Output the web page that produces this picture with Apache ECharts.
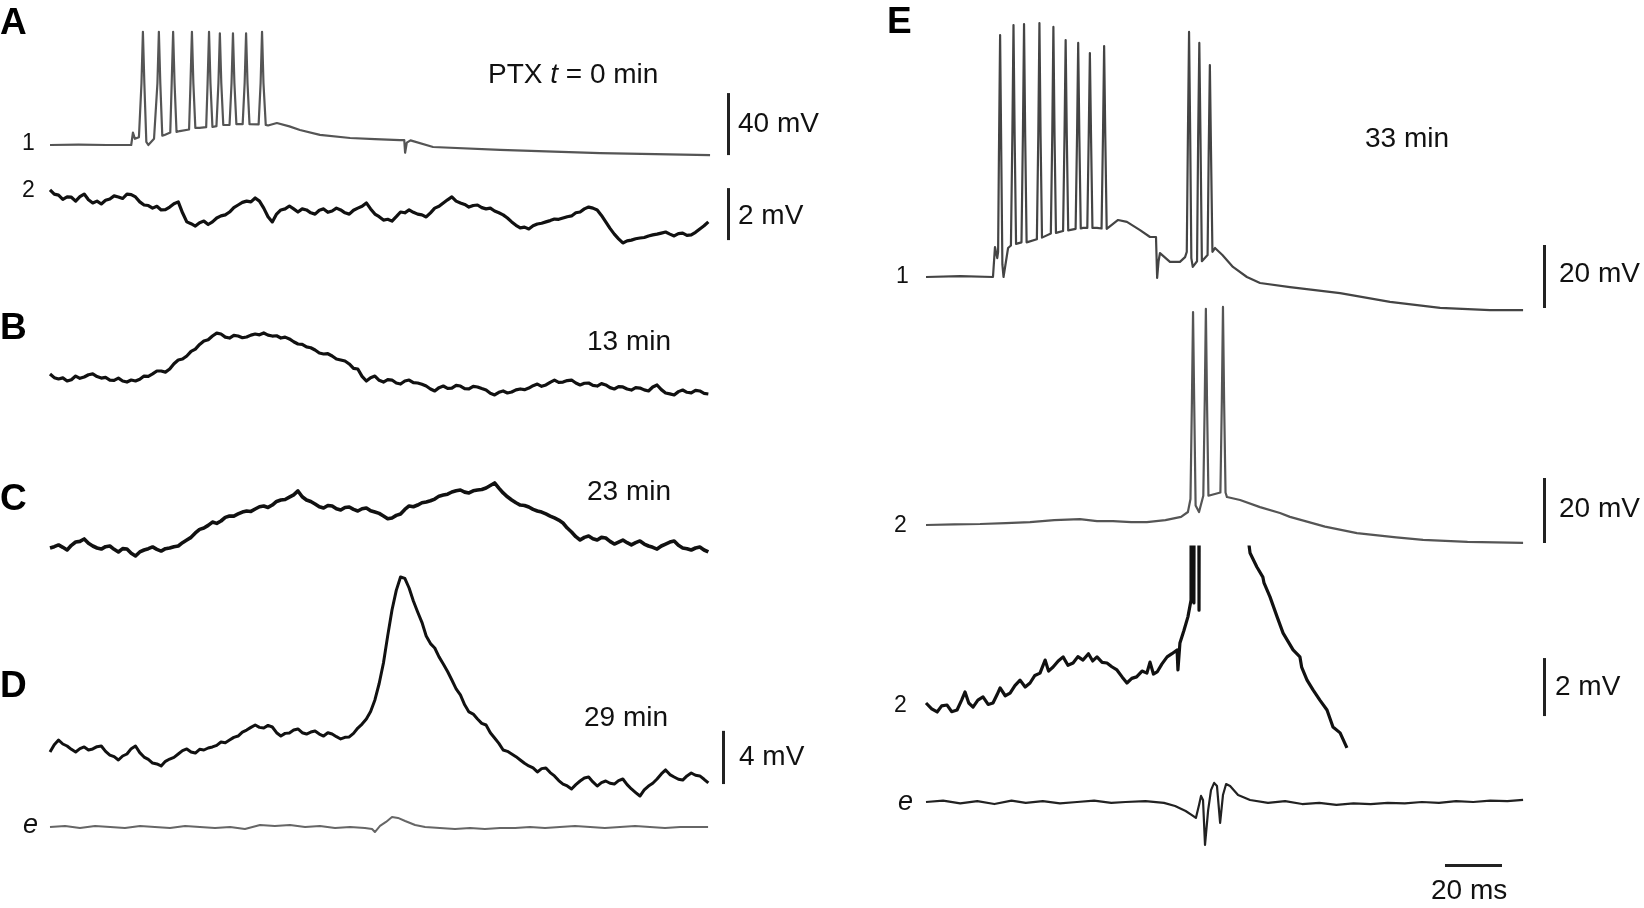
<!DOCTYPE html>
<html>
<head>
<meta charset="utf-8">
<title>PTX traces</title>
<script src="https://cdn.jsdelivr.net/npm/echarts@6/dist/echarts.min.js"></script>
<style>
  html, body { margin: 0; padding: 0; background: #fff; }
  #main { width: 1644px; height: 908px; }
</style>
</head>
<body>
<div id="main"></div>
<script>
// ---- data: time in ms, potential in mV ----
// A2, B, C, D are sampled every STEP_AD ms
const STEP_AD = 1.5

const traceA1 = [
  [0, 0], [10, 0.2], [20, 0], [28.5, 0], [29.1, 8], [29.8, 4], [31.2, 5],
  [32.1, 40], [32.6, 73], [33.1, 40], [33.8, 2], [34.5, 0],
  [36.5, 4], [37.7, 40], [38.2, 73], [38.7, 40], [39.4, 6], [40.2, 6.5],
  [42.2, 8], [42.7, 40], [43.2, 73], [43.7, 40], [44.4, 8.4], [45.5, 9],
  [48.8, 10], [49.3, 40], [49.8, 73], [50.3, 40], [51, 11], [52.5, 11],
  [54.8, 11.5], [55.3, 40], [55.8, 73], [56.3, 40], [57, 11.6], [58.4, 12.2],
  [59.1, 40], [59.6, 72], [60.1, 40], [60.8, 12.9], [63, 13],
  [63.7, 40], [64.2, 72], [64.7, 40], [65.4, 13.5], [67.6, 13.5],
  [68.3, 40], [68.8, 72], [69.3, 40], [70, 13.5], [73.2, 13.3],
  [73.9, 40], [74.4, 73], [74.9, 40], [75.7, 13], [76.5, 12.6],
  [79.6, 14.2], [84, 12], [87.7, 9.7], [94.7, 6.5], [105.3, 4.5], [114, 3.8],
  [122.8, 3.2], [124.3, 3.2], [124.6, -5], [125.2, 1.5], [126.5, 3],
  [134.4, -1.3], [157.9, -3.2], [193, -5.2], [231.6, -6.5]
]

const traceA2 = [
  0.58, 0.42, 0.38, 0.22, 0.31, 0.3, 0.15, 0.32, 0.42, 0.2,
  0.08, 0.15, 0.04, 0.18, 0.23, 0.35, 0.31, 0.25, 0.42, 0.4,
  0.31, 0.12, 0, -0.02, -0.12, -0.05, -0.19, -0.18, -0.08, 0.05,
  0.12, -0.3, -0.65, -0.72, -0.81, -0.68, -0.62, -0.75, -0.65, -0.5,
  -0.42, -0.38, -0.27, -0.1, 0, 0.1, 0.15, 0.12, 0.27, 0.15,
  -0.12, -0.45, -0.65, -0.35, -0.19, -0.15, -0.04, -0.15, -0.27, -0.15,
  -0.19, -0.3, -0.35, -0.2, -0.15, -0.28, -0.23, -0.12, -0.19, -0.3,
  -0.35, -0.2, -0.12, -0.05, 0.08, -0.15, -0.35, -0.45, -0.58, -0.55,
  -0.62, -0.45, -0.27, -0.3, -0.19, -0.28, -0.35, -0.38, -0.46, -0.3,
  -0.12, -0.05, 0.08, 0.2, 0.31, 0.15, 0.08, 0.02, -0.08, -0.02,
  0, -0.1, -0.15, -0.12, -0.23, -0.3, -0.38, -0.5, -0.65, -0.78,
  -0.88, -0.85, -0.92, -0.8, -0.73, -0.7, -0.65, -0.6, -0.54, -0.55,
  -0.5, -0.45, -0.42, -0.3, -0.27, -0.15, -0.08, -0.12, -0.19, -0.4,
  -0.65, -0.9, -1.12, -1.3, -1.46, -1.38, -1.35, -1.3, -1.27, -1.25,
  -1.19, -1.15, -1.12, -1.08, -1.04, -1.12, -1.19, -1.1, -1.08, -1.17,
  -1.15, -1.05, -0.92, -0.8, -0.65
]

const traceB = [
  0.08, -0.2, -0.3, -0.22, -0.45, -0.35, -0.08, -0.25, -0.15, 0.02,
  0.08, -0.12, -0.23, -0.18, -0.38, -0.4, -0.23, -0.45, -0.53, -0.38,
  -0.45, -0.32, -0.08, -0.1, 0.08, 0.3, 0.3, 0.22, 0.45, 0.85,
  1.13, 1.2, 1.43, 1.78, 1.95, 2.3, 2.56, 2.65, 2.93, 3.15,
  3.08, 2.85, 2.78, 2.98, 2.93, 2.8, 2.86, 3, 3.08, 3.02,
  3.16, 3, 2.93, 2.95, 2.78, 2.85, 2.71, 2.5, 2.33, 2.3,
  2.11, 2.05, 1.88, 1.65, 1.58, 1.6, 1.43, 1.2, 1.13, 1.05,
  0.83, 0.5, 0.45, -0.1, -0.45, -0.2, -0.08, -0.4, -0.53, -0.35,
  -0.38, -0.6, -0.68, -0.45, -0.38, -0.58, -0.6, -0.7, -0.83, -1.05,
  -1.2, -0.95, -0.83, -1, -0.98, -0.78, -0.83, -1.02, -1.05, -0.85,
  -0.9, -1.02, -1.13, -1.38, -1.5, -1.3, -1.2, -1.35, -1.28, -1.12,
  -1.05, -1.1, -0.98, -0.8, -0.68, -0.85, -0.75, -0.55, -0.38, -0.55,
  -0.53, -0.42, -0.38, -0.6, -0.75, -0.62, -0.6, -0.78, -0.83, -0.65,
  -0.75, -0.95, -1.05, -0.88, -0.9, -1.05, -1.13, -0.95, -0.98, -1.12,
  -1.2, -0.9, -0.75, -1.1, -1.35, -1.42, -1.5, -1.25, -1.13, -1.3,
  -1.35, -1.15, -1.2, -1.38, -1.43
]

const traceC = [
  0, 0.1, 0.23, 0.05, -0.15, 0.2, 0.45, 0.5, 0.68, 0.35,
  0.15, 0, -0.08, 0.1, 0.15, -0.1, -0.3, -0.05, -0.08, -0.4,
  -0.6, -0.3, -0.15, -0.05, 0.08, -0.1, -0.23, -0.05, 0, 0.1,
  0.15, 0.4, 0.6, 0.8, 1.13, 1.4, 1.5, 1.7, 1.95, 1.85,
  2.03, 2.3, 2.41, 2.4, 2.56, 2.7, 2.78, 2.75, 2.93, 3.1,
  3.16, 3.05, 3.23, 3.5, 3.61, 3.65, 3.83, 4, 4.29, 3.85,
  3.61, 3.5, 3.31, 3.1, 3.01, 3.2, 3.16, 2.95, 2.86, 3.05,
  3.08, 2.9, 2.78, 2.95, 3.01, 2.8, 2.71, 2.6, 2.41, 2.2,
  2.26, 2.45, 2.56, 2.9, 3.16, 3.1, 3.23, 3.4, 3.46, 3.55,
  3.68, 3.9, 3.98, 4.05, 4.21, 4.3, 4.36, 4.2, 4.14, 4.3,
  4.36, 4.4, 4.51, 4.7, 4.89, 4.5, 4.14, 3.85, 3.61, 3.4,
  3.23, 3.2, 3.08, 2.9, 2.78, 2.7, 2.56, 2.4, 2.26, 2.1,
  1.88, 1.5, 1.2, 0.85, 0.6, 0.8, 0.9, 0.7, 0.6, 0.8,
  0.75, 0.5, 0.3, 0.45, 0.6, 0.4, 0.23, 0.4, 0.53, 0.3,
  0.15, 0.05, -0.08, 0.15, 0.3, 0.45, 0.53, 0.2, 0, -0.05,
  -0.15, 0, 0.08, -0.15, -0.3
]

const traceD = [
  -0.15, 0.4, 0.75, 0.45, 0.3, 0.05, -0.15, 0.1, 0.23, 0,
  0.08, 0.25, 0.3, -0.1, -0.38, -0.5, -0.75, -0.45, -0.3, 0.1,
  0.3, -0.2, -0.53, -0.7, -0.98, -1.05, -1.2, -0.85, -0.68, -0.55,
  -0.3, -0.05, 0.08, -0.15, -0.23, 0.05, 0, 0.15, 0.23, 0.35,
  0.6, 0.55, 0.75, 0.95, 1.05, 1.35, 1.5, 1.7, 1.88, 1.7,
  1.65, 1.85, 1.73, 1.3, 1.05, 1.25, 1.28, 1.5, 1.58, 1.3,
  1.2, 1.35, 1.43, 1.2, 1.05, 1.3, 1.2, 1, 0.83, 0.95,
  0.98, 1.25, 1.65, 1.95, 2.33, 2.9, 3.76, 5, 6.54, 8.6,
  10.53, 12, 13.01, 12.9, 12.18, 11.2, 10.38, 9.6, 8.57, 8,
  7.67, 7, 6.47, 5.9, 5.26, 4.6, 4.14, 3.4, 2.86, 2.7,
  2.33, 2, 1.88, 1.3, 0.9, 0.5, 0, -0.1, -0.3, -0.5,
  -0.75, -1, -1.2, -1.35, -1.65, -1.4, -1.35, -1.7, -1.95, -2.3,
  -2.56, -2.7, -2.93, -2.6, -2.33, -2.1, -2.03, -2.4, -2.71, -2.45,
  -2.33, -2.5, -2.56, -2.3, -2.18, -2.6, -2.93, -3.2, -3.46, -3,
  -2.71, -2.5, -2.18, -1.8, -1.5, -1.85, -2.03, -2.2, -2.26, -1.95,
  -1.73, -1.9, -1.95, -2.2, -2.48
]

const traceDe = [
  [0, 0], [5.3, 0.08], [10.5, -0.08], [15.8, 0.08], [21.1, 0], [26.3, -0.08],
  [31.6, 0.08], [36.8, 0], [42.1, -0.08], [47.4, 0.08], [52.6, 0], [57.9, -0.08],
  [63.2, 0], [68.4, -0.15], [73.7, 0.15], [78.9, 0.08], [84.2, 0.15], [89.5, 0],
  [94.7, 0.08], [100, -0.08], [105.3, 0], [110.5, -0.08], [113, -0.15], [114, -0.38],
  [115.8, 0.08], [117.9, 0.38], [120, 0.75], [122.1, 0.68], [124.6, 0.45],
  [128.1, 0.15], [131.6, 0], [136.8, -0.08], [142.1, -0.15], [147.4, -0.08],
  [152.6, -0.15], [157.9, -0.08], [163.2, -0.08], [168.4, 0], [173.7, -0.08],
  [178.9, 0], [184.2, 0.08], [189.5, 0], [194.7, -0.08], [200, 0], [205.3, 0.08],
  [210.5, 0], [215.8, -0.08], [221.1, 0], [226.3, 0], [230.9, 0]
]

const traceE1 = [
  [0, 0], [12, 0.3], [23.5, 0], [24.2, 9.5], [25, 6], [25.3, 8], [25.6, 40],
  [26, 76.8], [26.4, 40], [26.8, 4], [27.2, 0], [28.8, 9.2], [29.8, 10],
  [30.3, 45], [30.7, 80], [31.1, 45], [31.6, 10.5], [32.3, 11.1], [33.5, 11],
  [34, 45], [34.4, 80.3], [34.8, 45], [35.3, 11], [35.8, 10.8], [38.9, 12],
  [39.4, 45], [39.8, 80.6], [40.2, 45], [40.7, 12.5], [41.1, 12.7], [43.8, 13.8],
  [44.3, 45], [44.7, 79.4], [45.1, 45], [45.6, 14], [46.3, 14.3], [48.1, 14.6],
  [48.6, 45], [49, 75.2], [49.4, 45], [49.9, 14.8], [50.5, 14.9], [52.5, 15.3],
  [53, 45], [53.4, 74.3], [53.8, 45], [54.3, 15.4], [55.1, 15.6], [56.6, 15.6],
  [57.1, 45], [57.5, 71.1], [57.9, 45], [58.4, 15.6], [60, 15.6], [61.6, 15.4],
  [62.1, 45], [62.5, 73.3], [62.9, 45], [63.4, 15.3], [63.9, 14.9], [67.4, 18.1],
  [70.5, 17.5], [75.1, 14.9], [78.6, 12.7], [80.7, 12.7], [81.1, -0.3], [81.6, 5],
  [82.1, 7.6], [85.6, 4.8], [89.1, 4.8], [90.9, 6.3], [91.5, 8], [91.9, 45],
  [92.3, 77.8], [92.7, 45], [93.1, 6], [93.6, 3.2], [95.1, 5], [95.5, 45],
  [95.9, 74.3], [96.3, 45], [96.8, 5], [97.5, 5.4], [98.8, 7], [99.2, 40],
  [99.6, 67.3], [100, 40], [100.5, 8], [101.4, 9.2], [104, 7], [107.7, 3.2],
  [112.6, 0], [117.2, -1.9], [127.7, -3.2], [145.3, -5.1], [162.8, -7.9],
  [180.4, -9.8], [197.9, -10.5], [209.5, -10.5]
]

const traceE2 = [
  [0, 0], [10, 0.2], [19, 0.3], [28, 0.6], [36.5, 0.9], [45, 1.5], [54, 1.8],
  [60, 1.2], [65.6, 1.2], [72, 0.9], [77.5, 0.9], [84, 1.5], [89.5, 2.5],
  [91.9, 4], [92.8, 8], [93.3, 38], [93.7, 65.5], [94.1, 38], [94.6, 6],
  [95.8, 4], [97.3, 9], [97.8, 38], [98.2, 66.5], [98.6, 38], [99.1, 9],
  [99.6, 8.6], [103.3, 10], [103.8, 38], [104.2, 67.1], [104.6, 38], [105.1, 10],
  [105.6, 8.6], [110.2, 7.7], [117.2, 5.5], [124.2, 3.7], [127.7, 2.5],
  [140, -0.5], [151.2, -2.5], [165, -3.8], [174.4, -4.6], [190, -5.2],
  [209.5, -5.5]
]

// same cell at high gain: spikes and the top of the burst run off scale
const traceE2hi = [
  [0, 0], [2, -0.2], [3.9, -0.31], [5.5, -0.1], [7.4, -0.07], [9, -0.3],
  [10.9, -0.24], [12.5, 0.1], [13.7, 0.38], [15, 0], [16.5, -0.14], [18.2, 0.1],
  [20, 0.21], [21.8, -0.05], [23.5, 0], [25, 0.3], [26, 0.52], [27.8, 0.25],
  [29.5, 0.34], [31.2, 0.6], [33, 0.79], [34.8, 0.55], [36.5, 0.69], [38.2, 0.95],
  [40, 1.03], [41.8, 1.48], [43, 1.1], [44.6, 1.24], [46.4, 1.45], [48.1, 1.59],
  [49.8, 1.3], [51.6, 1.38], [53.3, 1.6], [55.1, 1.48], [57, 1.7], [58.5, 1.45],
  [60, 1.59], [61.8, 1.4], [63.5, 1.38], [65.2, 1.25], [67, 1.14], [68.8, 0.9],
  [70.5, 0.69], [72.2, 0.85], [73.9, 0.9], [75.8, 1.1], [77.5, 1.03], [78.6, 1.41],
  [79.8, 1], [81.1, 1.07], [82.8, 1.35], [84.6, 1.59], [86.3, 1.7], [88.1, 1.83],
  [88.4, 1.14], [89.1, 2.07], [90.5, 2.5], [91.9, 2.97], [93, 3.55],
  [93.2, 60], [94, 3.45], [94.9, 60], [95.8, 3.2], [96.7, 60], [98, 12],
  [105, 10], [110, 8], [113.7, 5.17], [116.1, 4.69], [118.2, 4.34], [118.6, 4.14],
  [120.7, 3.66], [123.2, 2.97], [125.3, 2.41], [128.8, 1.83], [131.2, 1.59],
  [131.8, 1.24], [133.7, 0.79], [135.8, 0.45], [138.2, 0.1], [140.7, -0.24],
  [142.8, -0.83], [145.3, -1.03], [147.7, -1.55]
]

const traceEe = [
  [0, 0], [6, 0.05], [12, -0.05], [18, 0.03], [24, -0.07], [30, 0.05],
  [35, -0.03], [41, 0.03], [47, -0.05], [53, 0], [59, 0.05], [65, -0.03],
  [70, 0], [77, 0.03], [83.5, -0.03], [87.4, -0.14], [91.1, -0.31], [93.3, -0.45],
  [94.7, -0.55], [95.8, -0.1], [96.5, 0.21], [97.2, 0.07], [97.9, -1.48],
  [99, -0.28], [100, 0.41], [101.1, 0.66], [102.1, 0.55], [103.2, -0.72],
  [104.2, 0.24], [105.3, 0.62], [106.7, 0.55], [109.5, 0.24], [113.7, 0.07],
  [120, -0.03], [126, 0.03], [132, -0.07], [138, -0.03], [144, -0.1], [150, -0.05],
  [156, -0.07], [162, -0.03], [168, -0.05], [174, 0], [180, -0.03], [186, 0.03],
  [192, 0], [198, 0.05], [204, 0.03], [209.5, 0.07]
]

// scale bar sizes (mV, ms)
const BAR_A1 = 40
const BAR_A2 = 2
const BAR_D = 4
const BAR_E1 = 20
const BAR_E2 = 20
const BAR_E2HI = 2
const BAR_TIME = 20

// ---- layout ----
const PX_MS = 2.85
function sampled(vals, step) {
  return vals.map((v, i) => [i * step, v])
}

const traces = [
  { data: traceA1, lay: { x0: 50, y0: 145, pxV: 1.55, tMax: 240, vMin: -10, vMax: 80 }, color: '#555', width: 2.2, bar: { t: 237.9, v: -6.5, len: BAR_A1 } },
  { data: sampled(traceA2, STEP_AD), lay: { x0: 50, y0: 205, pxV: 26, tMax: 240, vMin: -1.8, vMax: 1.4 }, color: '#111', width: 3.2, bar: { t: 237.9, v: -1.35, len: BAR_A2 } },
  { data: sampled(traceB, STEP_AD), lay: { x0: 50, y0: 375, pxV: 13.3, tMax: 240, vMin: -2, vMax: 4 }, color: '#111', width: 3.2 },
  { data: sampled(traceC, STEP_AD), lay: { x0: 50, y0: 548, pxV: 13.3, tMax: 240, vMin: -1, vMax: 5.5 }, color: '#111', width: 3.6 },
  { data: sampled(traceD, STEP_AD), lay: { x0: 50, y0: 750, pxV: 13.3, tMax: 240, vMin: -4, vMax: 13.5 }, color: '#111', width: 3, bar: { t: 236.1, v: -2.56, len: BAR_D } },
  { data: traceDe, lay: { x0: 50, y0: 827, pxV: 13.3, tMax: 240, vMin: -1, vMax: 1.5 }, color: '#666', width: 2 },
  { data: traceE1, lay: { x0: 926, y0: 277, pxV: 3.15, tMax: 220, vMin: -12, vMax: 82 }, color: '#444', width: 2.2, bar: { t: 216.8, v: -9.84, len: BAR_E1 } },
  { data: traceE2, lay: { x0: 926, y0: 525, pxV: 3.25, tMax: 220, vMin: -7, vMax: 68 }, color: '#555', width: 2.2, bar: { t: 216.8, v: -5.54, len: BAR_E2 } },
  { data: traceE2hi, lay: { x0: 926, y0: 703, pxV: 29, tMax: 220, vMin: -2, vMax: 5.38 }, color: '#111', width: 3.2, bar: { t: 216.8, v: -0.45, len: BAR_E2HI } },
  { data: traceEe, lay: { x0: 926, y0: 802, pxV: 29, tMax: 220, vMin: -2.5, vMax: 1 }, color: '#222', width: 2.2, tbar: { t: 182.1, v: -2.17, len: BAR_TIME } }
]

const grids = [], xAxes = [], yAxes = [], series = []
traces.forEach((tr, i) => {
  const L = tr.lay
  grids.push({
    left: L.x0,
    top: L.y0 - L.vMax * L.pxV,
    width: L.tMax * PX_MS,
    height: (L.vMax - L.vMin) * L.pxV,
    containLabel: false
  })
  xAxes.push({ type: 'value', gridIndex: i, min: 0, max: L.tMax, show: false })
  yAxes.push({ type: 'value', gridIndex: i, min: L.vMin, max: L.vMax, show: false })
  const s = {
    type: 'line',
    xAxisIndex: i,
    yAxisIndex: i,
    data: tr.data,
    symbol: 'none',
    silent: true,
    clip: true,
    lineStyle: { color: tr.color, width: tr.width, join: 'round' }
  }
  const marks = []
  if (tr.bar) {
    marks.push([{ coord: [tr.bar.t, tr.bar.v] }, { coord: [tr.bar.t, tr.bar.v + tr.bar.len] }])
  }
  if (tr.tbar) {
    marks.push([{ coord: [tr.tbar.t, tr.tbar.v] }, { coord: [tr.tbar.t + tr.tbar.len, tr.tbar.v] }])
  }
  if (marks.length) {
    s.markLine = {
      silent: true,
      symbol: ['none', 'none'],
      label: { show: false },
      lineStyle: { color: '#222', width: 3, type: 'solid' },
      emphasis: { disabled: true },
      data: marks
    }
  }
  series.push(s)
})

const FONT = '"Liberation Sans", Arial, sans-serif'
function txt(x, y, text, size, extra) {
  return {
    type: 'text',
    x: x,
    y: y,
    silent: true,
    style: Object.assign({
      text: text,
      font: size + 'px ' + FONT,
      fill: '#111',
      verticalAlign: 'middle',
      align: 'left'
    }, extra || {})
  }
}
const bold = { font: 'bold 37px ' + FONT, fill: '#000' }
const ital = { font: 'italic 27px ' + FONT }

const labels = [
  txt(0, 24, 'A', 37, bold),
  txt(0, 329, 'B', 37, bold),
  txt(0, 500, 'C', 37, bold),
  txt(0, 687, 'D', 37, bold),
  txt(887, 23, 'E', 37, bold),
  txt(22, 144, '1', 23),
  txt(22, 191, '2', 23),
  txt(23, 825, 'e', 27, ital),
  {
    type: 'text', x: 488, y: 75, silent: true,
    style: {
      text: '{n|PTX }{i|t}{n| = 0 min}',
      verticalAlign: 'middle',
      rich: {
        n: { font: '28px ' + FONT, fill: '#111' },
        i: { font: 'italic 28px ' + FONT, fill: '#111' }
      }
    }
  },
  txt(738, 124, '40 mV', 28),
  txt(738, 216, '2 mV', 28),
  txt(587, 342, '13 min', 28),
  txt(587, 492, '23 min', 28),
  txt(584, 718, '29 min', 28),
  txt(739, 757, '4 mV', 28),
  txt(896, 277, '1', 23),
  txt(1365, 139, '33 min', 28),
  txt(1559, 274, '20 mV', 28),
  txt(894, 526, '2', 23),
  txt(1559, 509, '20 mV', 28),
  txt(894, 706, '2', 23),
  txt(1555, 687, '2 mV', 28),
  txt(898, 802, 'e', 27, ital),
  txt(1431, 891, '20 ms', 28)
]

const chart = echarts.init(document.getElementById('main'), null, { renderer: 'canvas' })
chart.setOption({
  backgroundColor: '#fff',
  animation: false,
  grid: grids,
  xAxis: xAxes,
  yAxis: yAxes,
  series: series,
  graphic: labels
})
window.addEventListener('resize', () => chart.resize())
</script>
</body>
</html>
